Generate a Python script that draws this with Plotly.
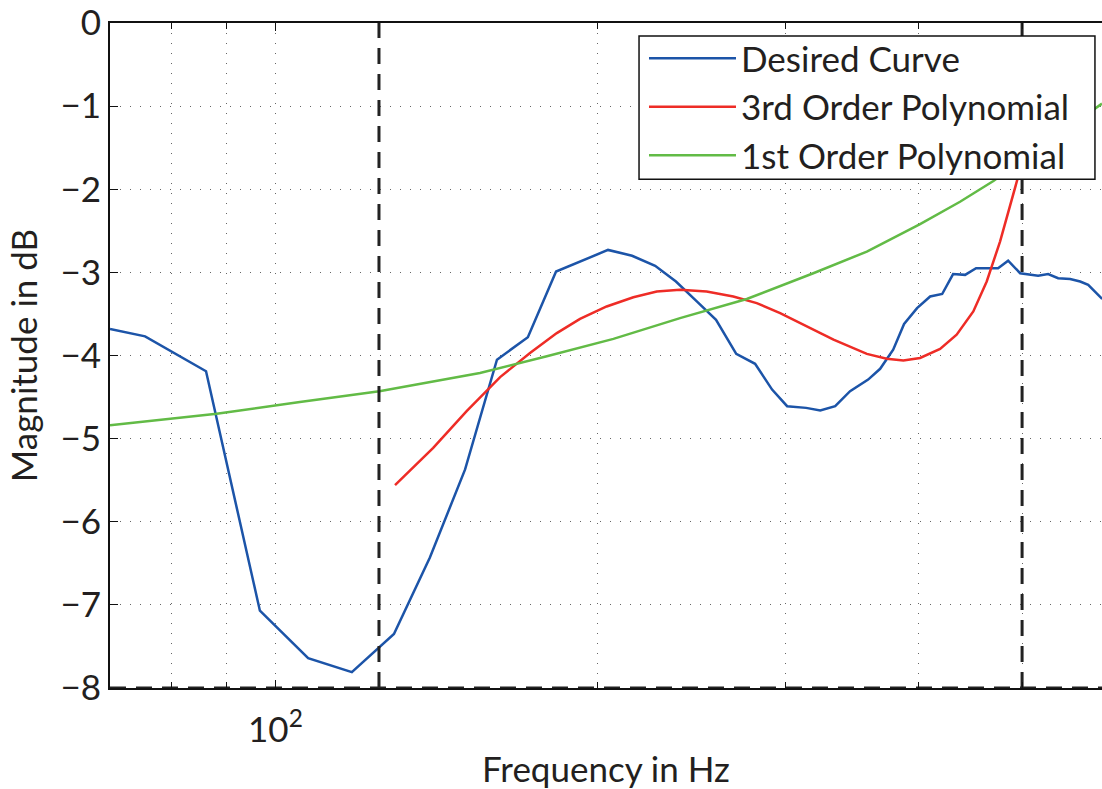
import plotly.graph_objects as go
import math

# ---- data ----
desired_f = [70.0, 75.5, 86.1, 96.7, 107.3, 117.9, 129.1, 139.5, 150.5, 161.2, 172.3, 183.1,
             204.8, 215.7, 226.7, 237.1, 248.0, 258.5, 270.0, 281.2, 291.7, 301.3, 313.9,
             323.6, 334.2, 345.1, 358.8, 368.2, 378.7, 387.7, 398.7, 410.1, 420.9, 430.9,
             442.2, 452.8, 474.8, 485.2, 497.9, 517.6, 528.9, 540.4, 554.6, 566.7, 576.6, 594.2]
desired_db = [-3.68, -3.77, -4.19, -7.07, -7.64, -7.81, -7.35, -6.43, -5.37, -4.05, -3.78, -2.99,
              -2.73, -2.80, -2.92, -3.11, -3.35, -3.57, -3.98, -4.10, -4.41, -4.61, -4.63,
              -4.66, -4.61, -4.43, -4.29, -4.16, -3.93, -3.62, -3.43, -3.29, -3.26, -3.02,
              -3.03, -2.95, -2.95, -2.86, -3.01, -3.04, -3.02, -3.07, -3.08, -3.11, -3.15, -3.32]

cubic_f = [129.4, 140.5, 151.0, 162.3, 173.1, 183.4, 192.8, 204.2, 216.3, 227.5, 239.2, 253.3,
           268.3, 282.2, 296.8, 314.4, 333.0, 357.8, 373.5, 387.1, 401.3, 419.0, 434.2, 450.1,
           463.3, 476.8, 487.2, 496.0, 505.0, 515.0]
cubic_db = [-5.56, -5.11, -4.67, -4.26, -3.97, -3.73, -3.56, -3.41, -3.30, -3.23, -3.21, -3.23,
            -3.29, -3.37, -3.49, -3.65, -3.81, -3.98, -4.04, -4.06, -4.03, -3.92, -3.75, -3.47,
            -3.11, -2.63, -2.20, -1.84, -1.40, -0.85]

linear_f = [70.0, 88.1, 105.4, 125.1, 155.4, 179.5, 207.2, 239.2, 276.2, 318.8, 357.8, 401.3,
            437.4, 470.0, 594.0]
linear_db = [-4.84, -4.70, -4.56, -4.43, -4.21, -4.01, -3.80, -3.55, -3.32, -3.01, -2.75, -2.42,
             -2.15, -1.90, -0.97]

band_edges_hz = [125, 500]
floor_db = -8
x_range_hz = [70, 594]
y_ticks = [0, -1, -2, -3, -4, -5, -6, -7, -8]
x_major_ticks = [100]
x_major_labels = ["10<sup>2</sup>"]
x_minor_ticks = [70, 80, 90, 200, 300, 400, 500]

FONT = "Lato"
TXT = "#231f20"
DASH = "16px,10px"

fig = go.Figure()
fig.add_trace(go.Scatter(x=desired_f, y=desired_db, mode="lines", name="Desired Curve",
                         line=dict(color="#1c54a8", width=2.5)))
fig.add_trace(go.Scatter(x=cubic_f, y=cubic_db, mode="lines", name="3rd Order Polynomial",
                         line=dict(color="#ee2c26", width=2.5)))
fig.add_trace(go.Scatter(x=linear_f, y=linear_db, mode="lines", name="1st Order Polynomial",
                         line=dict(color="#62bb46", width=2.5)))
for f in band_edges_hz:
    fig.add_trace(go.Scatter(x=[f, f], y=[floor_db, 0], mode="lines", showlegend=False,
                             line=dict(color="#222222", width=3, dash=DASH),
                             hoverinfo="skip"))
fig.add_trace(go.Scatter(x=[x_range_hz[0], x_range_hz[1]], y=[floor_db, floor_db], mode="lines",
                         showlegend=False, line=dict(color="#222222", width=3, dash=DASH),
                         hoverinfo="skip"))

# legend frame (white box with black border, like MATLAB's legend)
fig.add_shape(type="rect", xref="paper", yref="paper",
              x0=0.5333, x1=0.9929, y0=0.7650, y1=0.9805,
              fillcolor="white", line=dict(color="#111111", width=1.5), layer="above")

fig.update_layout(
    width=1102, height=789,
    margin=dict(l=110, r=0, t=20, b=101),
    paper_bgcolor="white", plot_bgcolor="white",
    font=dict(family=FONT, size=35, color=TXT),
    legend=dict(x=0.5383, y=0.991, xanchor="left", yanchor="top",
                bgcolor="rgba(0,0,0,0)", borderwidth=0,
                font=dict(family=FONT, size=35, color=TXT),
                itemwidth=87, tracegroupgap=0),
    xaxis=dict(type="log", range=[math.log10(x_range_hz[0]), math.log10(x_range_hz[1])],
               tickmode="array", tickvals=x_major_ticks, ticktext=x_major_labels,
               ticks="inside", ticklen=8, tickcolor="#111111", tickwidth=1,
               showline=True, linecolor="#111111", linewidth=1.5, mirror="ticks",
               showgrid=True, gridcolor="#666666", gridwidth=1, griddash="1px,9px",
               zeroline=False, ticklabelstandoff=10,
               minor=dict(tickvals=x_minor_ticks, ticks="inside", ticklen=6,
                          tickcolor="#111111", showgrid=True, gridcolor="#666666",
                          gridwidth=1, griddash="1px,9px"),
               title=dict(text="Frequency in Hz", standoff=10,
                          font=dict(family=FONT, size=35, color=TXT)),
               tickfont=dict(family=FONT, size=35, color=TXT)),
    yaxis=dict(range=[-8, 0], tickmode="array", tickvals=y_ticks,
               ticks="inside", ticklen=8, tickcolor="#111111", tickwidth=1,
               showline=True, linecolor="#111111", linewidth=2, mirror=False,
               showgrid=True, gridcolor="#666666", gridwidth=1, griddash="1px,9px",
               zeroline=False, ticklabeloverflow="allow",
               title=dict(text="Magnitude in dB", standoff=12,
                          font=dict(family=FONT, size=35, color=TXT)),
               tickfont=dict(family=FONT, size=35, color=TXT)),
)

fig.write_html("out.html")
